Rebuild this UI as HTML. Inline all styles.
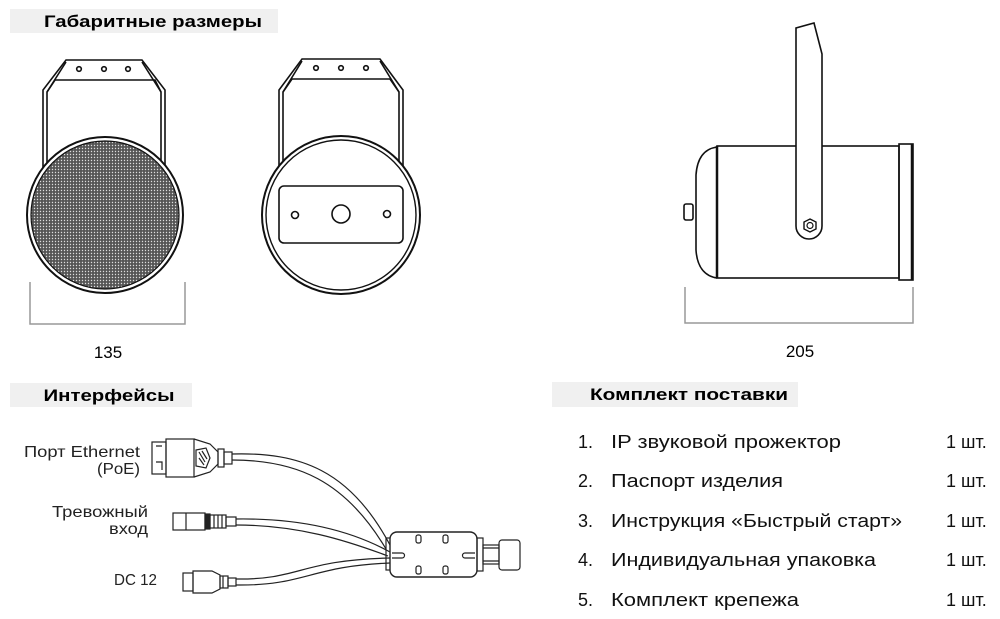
<!DOCTYPE html>
<html><head><meta charset="utf-8"><style>
html,body{margin:0;padding:0;background:#fff}
svg{display:block}
text{font-family:"Liberation Sans",sans-serif}
</style></head><body>
<svg width="1000" height="619" viewBox="0 0 1000 619" xmlns="http://www.w3.org/2000/svg">
<defs>
<pattern id="mesh" width="3" height="3" patternUnits="userSpaceOnUse">
<rect width="3" height="3" fill="#555"/><circle cx="1.5" cy="1.5" r="0.7" fill="#ddd"/>
</pattern>
</defs>
<!-- headers -->
<rect x="10" y="9" width="268" height="24" fill="#f0f0f0"/>
<text x="153" y="27" font-size="17" font-weight="bold" text-anchor="middle" textLength="218" lengthAdjust="spacingAndGlyphs">Габаритные размеры</text>
<rect x="10" y="383" width="182" height="24" fill="#f0f0f0"/>
<text x="109" y="401" font-size="17" font-weight="bold" text-anchor="middle" textLength="131" lengthAdjust="spacingAndGlyphs">Интерфейсы</text>
<rect x="552" y="382" width="246" height="25" fill="#f0f0f0"/>
<text x="689" y="400" font-size="17" font-weight="bold" text-anchor="middle" textLength="198" lengthAdjust="spacingAndGlyphs">Комплект поставки</text>

<g fill="none" stroke="#111" stroke-width="1.6">
<!-- speaker 1 bracket -->
<path d="M43,170 V90 L66,60 H142 L165,90 V170"/>
<path d="M47,170 V92 L55,80 H155 L161,92 V170"/>
<path d="M47,92 L66,62 M161,92 L142,62"/>
<circle cx="79" cy="69" r="2.3"/><circle cx="104" cy="69" r="2.3"/><circle cx="128" cy="69" r="2.3"/>
<circle cx="105" cy="215" r="78" fill="#fff" stroke-width="2"/>
<circle cx="105" cy="215" r="74" fill="url(#mesh)" stroke-width="1.2"/>
<!-- speaker 2 -->
<path d="M279,170 V90 L302,59 H380 L403,90 V170"/>
<path d="M283,170 V92 L292,79 H390 L399,92 V170"/>
<path d="M283,92 L302,61 M399,92 L380,61"/>
<circle cx="316" cy="68" r="2.3"/><circle cx="341" cy="68" r="2.3"/><circle cx="366" cy="68" r="2.3"/>
<circle cx="341" cy="215" r="79" fill="#fff" stroke-width="2"/>
<circle cx="341" cy="215" r="75" stroke-width="1.4"/>
<rect x="279" y="186" width="124" height="57" rx="5"/>
<circle cx="295" cy="215" r="3.5"/><circle cx="341" cy="214" r="9"/><circle cx="387" cy="214" r="3.5"/>
<!-- side view -->
<path d="M717,147 C703,149 697,160 696,175 V250 C697,266 704,276 717,278" stroke-width="1.6"/>
<rect x="684" y="204" width="9" height="16" rx="2"/>
<rect x="717" y="146" width="182" height="132" stroke-width="1.6"/>
<line x1="717" y1="146" x2="717" y2="278" stroke-width="2.5"/>
<rect x="899" y="144" width="14" height="136"/>
<line x1="912" y1="144" x2="912" y2="280" stroke-width="2.5"/>
<path d="M796,146 V28 L814,23 L822,54 V226 A13,13 0 0 1 796,226 Z" fill="#fff"/>
<polygon points="810,219 816,222 816,229 810,232 804,229 804,222" stroke-width="1.4"/>
<circle cx="810" cy="225.5" r="3" stroke-width="1.2"/>
</g>
<!-- dimensions -->
<g fill="none" stroke="#999" stroke-width="1.5">
<path d="M30,282 V324 H185 V282"/>
<path d="M685,287 V323 H913 V287"/>
</g>
<text x="108" y="358" font-size="17" text-anchor="middle">135</text>
<text x="800" y="357" font-size="17" text-anchor="middle">205</text>

<!-- interfaces labels -->
<g font-size="16" fill="#222">
<text x="24" y="457" textLength="116" lengthAdjust="spacingAndGlyphs">Порт Ethernet</text>
<text x="97" y="474" textLength="43" lengthAdjust="spacingAndGlyphs">(PoE)</text>
<text x="52" y="517" textLength="96" lengthAdjust="spacingAndGlyphs">Тревожный</text>
<text x="109" y="534" textLength="39" lengthAdjust="spacingAndGlyphs">вход</text>
<text x="114" y="585" textLength="43" lengthAdjust="spacingAndGlyphs">DC 12</text>
</g>
<g fill="none" stroke="#222" stroke-width="1.2">
<!-- cables -->
<path d="M232,454 C300,452 350,470 390,545"/>
<path d="M232,460 C296,460 345,480 386,549"/>
<path d="M236,519 C300,518 350,530 390,552"/>
<path d="M236,525 C298,525 345,540 388,556"/>
<path d="M236,579 C300,580 300,560 390,558"/>
<path d="M236,585 C305,586 310,566 390,563"/>
<!-- ethernet connector -->
<rect x="152" y="442" width="14" height="32"/>
<path d="M156,462 H162 V470 M156,446 H162"/>
<rect x="166" y="439" width="28" height="38"/>
<path d="M194,439 L210,444 L218,452 V464 L210,472 L194,477"/>
<path d="M196,450 L206,448 L210,458 L206,468 L196,466 Z"/>
<path d="M199,452 L205,462 M202,451 L207,459 M199,458 L204,465"/>
<rect x="218" y="449" width="6" height="18"/><rect x="224" y="452" width="8" height="12"/>
<!-- alarm -->
<rect x="173" y="513" width="32" height="17"/>
<line x1="186" y1="513" x2="186" y2="530"/>
<rect x="205" y="514" width="5" height="15" fill="#222"/>
<rect x="210" y="515" width="16" height="13"/>
<path d="M214,515 V528 M218,515 V528 M222,515 V528"/>
<rect x="226" y="517" width="10" height="9"/>
<!-- DC -->
<rect x="183" y="573" width="10" height="18"/>
<path d="M193,571 H212 L220,575 V589 L212,593 H193 Z"/>
<rect x="220" y="576" width="8" height="12"/>
<path d="M223,576 V588"/>
<rect x="228" y="578" width="8" height="8"/>
<!-- box -->
<rect x="386" y="538" width="5" height="32"/>
<rect x="390" y="532" width="87" height="45" rx="7" fill="#fff" stroke-width="1.4"/>
<path d="M392,553 H402 A2.5,2.5 0 0 1 402,558 H392"/>
<path d="M475,553 H465 A2.5,2.5 0 0 0 465,558 H475"/>
<rect x="416" y="535" width="5" height="8" rx="2"/><rect x="443" y="535" width="5" height="8" rx="2"/>
<rect x="416" y="566" width="5" height="8" rx="2"/><rect x="443" y="566" width="5" height="8" rx="2"/>
<rect x="477" y="538" width="6" height="33"/>
<rect x="483" y="545" width="16" height="19"/>
<path d="M483,548 H499 M483,561 H499"/>
<rect x="499" y="540" width="21" height="30" rx="3"/>
</g>

<!-- list -->
<g font-size="18" fill="#111">
<text x="578" y="448">1.</text><text x="611" y="448" textLength="230" lengthAdjust="spacingAndGlyphs">IP звуковой прожектор</text><text x="946" y="448">1 шт.</text>
<text x="578" y="487">2.</text><text x="611" y="487" textLength="172" lengthAdjust="spacingAndGlyphs">Паспорт изделия</text><text x="946" y="487">1 шт.</text>
<text x="578" y="527">3.</text><text x="611" y="527" textLength="291" lengthAdjust="spacingAndGlyphs">Инструкция «Быстрый старт»</text><text x="946" y="527">1 шт.</text>
<text x="578" y="566">4.</text><text x="611" y="566" textLength="265" lengthAdjust="spacingAndGlyphs">Индивидуальная упаковка</text><text x="946" y="566">1 шт.</text>
<text x="578" y="606">5.</text><text x="611" y="606" textLength="188" lengthAdjust="spacingAndGlyphs">Комплект крепежа</text><text x="946" y="606">1 шт.</text>
</g>
</svg>
</body></html>
